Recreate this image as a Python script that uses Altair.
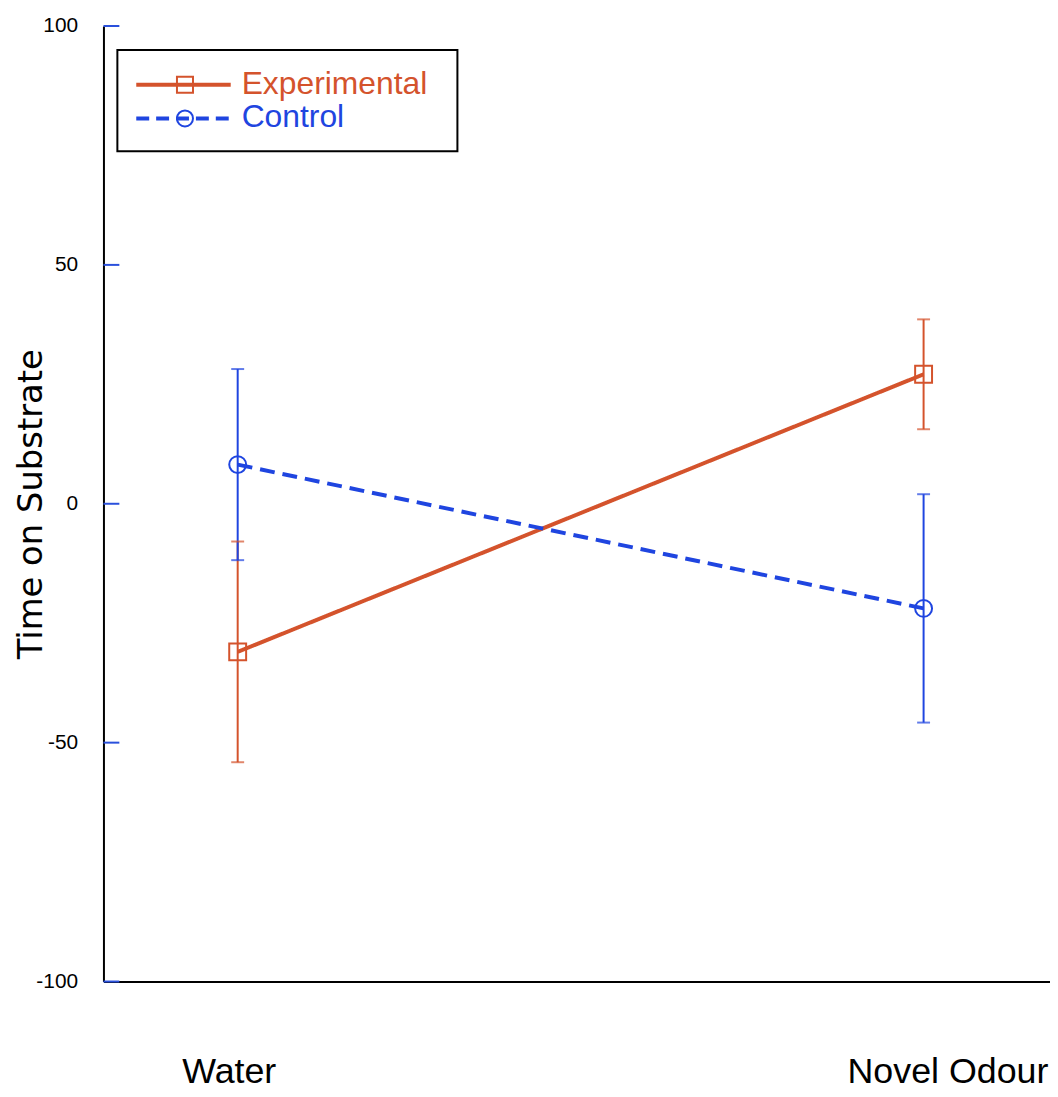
import altair as alt
import pandas as pd

# ---- data ----
conditions = ["Water", "Novel Odour"]
series_names = ["Experimental", "Control"]
exp_mean = [-31.0, 27.1]
exp_sem = [23.1, 11.5]
ctrl_mean = [8.2, -21.9]
ctrl_sem = [20.0, 23.9]
ytick_values = [-100, -50, 0, 50, 100]

series_colors = ["#d4532c", "#1f45e0"]

rows = []
for s, means, sems in [("Experimental", exp_mean, exp_sem), ("Control", ctrl_mean, ctrl_sem)]:
    for c, m, e in zip(conditions, means, sems):
        rows.append({"series": s, "condition": c, "mean": m, "sem": e})
df = pd.DataFrame(rows)
tick_df = pd.DataFrame({"v": ytick_values})
legend_df = pd.DataFrame({"label": series_names})

W, H = 952, 961

x_enc = alt.X(
    "condition:N",
    sort=conditions,
    scale=alt.Scale(type="point", domain=conditions, padding=0.19, align=0.515),
    axis=alt.Axis(
        title=None, ticks=False, grid=False, domain=True, domainColor="black",
        domainWidth=2, labelFontSize=36, labelFont="Liberation Sans",
        labelColor="black", labelPadding=74, labelAngle=0, labelLimit=0,
        labelOffset={"condition": {"test": "datum.value === 'Water'", "value": -9}, "value": 24},
    ),
)
y_scale = alt.Scale(domain=[-100, 100], nice=False)
y_axis = alt.Axis(
    values=ytick_values, labelExpr="'' + datum.value", grid=False, ticks=False, tickSize=0,
    domainColor="black", domainWidth=2,
    labelFont="Liberation Sans", labelFontSize=21, labelColor="black", labelPadding=26,
    title="Time on Substrate", titleFont="DejaVu Sans", titleFontSize=34,
    titleFontWeight="normal", titleColor="black", titleX=-62, titleY=H / 2,
    titleBaseline="alphabetic", titleAlign="center", titleAngle=270,
)

color = alt.Color("series:N", scale=alt.Scale(domain=series_names, range=series_colors), legend=None)

base = alt.Chart(df)

lines = base.mark_line(strokeWidth=4).encode(
    x=x_enc,
    y=alt.Y("mean:Q", scale=y_scale, axis=y_axis),
    color=color,
    strokeDash=alt.StrokeDash("series:N", scale=alt.Scale(domain=series_names, range=[[1, 0], [15, 8]]), legend=None),
)

err = base.transform_calculate(lo="datum.mean - datum.sem", hi="datum.mean + datum.sem")
err_rules = err.mark_rule(strokeWidth=2).encode(
    x=alt.X("condition:N", sort=conditions), y="lo:Q", y2="hi:Q", color=color
)
cap_lo = err.mark_tick(size=13, thickness=2).encode(
    x=alt.X("condition:N", sort=conditions), y="lo:Q", color=color
)
cap_hi = err.mark_tick(size=13, thickness=2).encode(
    x=alt.X("condition:N", sort=conditions), y="hi:Q", color=color
)

points = base.mark_point(filled=False, size=289, strokeWidth=2, opacity=1).encode(
    x=alt.X("condition:N", sort=conditions),
    y="mean:Q",
    color=color,
    shape=alt.Shape("series:N", scale=alt.Scale(domain=series_names, range=["square", "circle"]), legend=None),
)

inner_ticks = alt.Chart(tick_df).mark_rule(color="#2a50dc", strokeWidth=2).encode(
    y="v:Q", x=alt.value(0), x2=alt.value(16)
)

# ---- manual legend ----
box = alt.Chart(legend_df).transform_filter("datum.label === 'Experimental'").mark_rect(
    fill="white", stroke="black", strokeWidth=2
).encode(x=alt.value(14), x2=alt.value(356), y=alt.value(24), y2=alt.value(126))

legend_layers = [box]
legend_rows = [
    ("Experimental", series_colors[0], "square", [1, 0], 59),
    ("Control", series_colors[1], "circle", [13, 7], 93),
]
for lab, col, shp, dash, yy in legend_rows:
    src = alt.Chart(legend_df).transform_filter(f"datum.label === '{lab}'")
    legend_layers.append(
        src.mark_rule(color=col, strokeWidth=4, strokeDash=dash).encode(
            x=alt.value(33), x2=alt.value(128), y=alt.value(yy)
        )
    )
    legend_layers.append(
        src.mark_point(shape=shp, filled=False, size=260, strokeWidth=2, color=col, opacity=1).encode(
            x=alt.value(82), y=alt.value(yy)
        )
    )
    legend_layers.append(
        src.mark_text(align="left", baseline="middle", fontSize=32, font="Liberation Sans", color=col).encode(
            x=alt.value(139), y=alt.value(yy - 1), text="label:N"
        )
    )

chart = alt.layer(
    lines, err_rules, cap_lo, cap_hi, points, inner_ticks, *legend_layers
).properties(
    width=W, height=H,
    padding={"left": 7, "top": 4, "right": 0, "bottom": 0},
    background="white",
).configure_view(stroke=None)

chart.save("out.html", embed_options={"renderer": "svg", "actions": False})
